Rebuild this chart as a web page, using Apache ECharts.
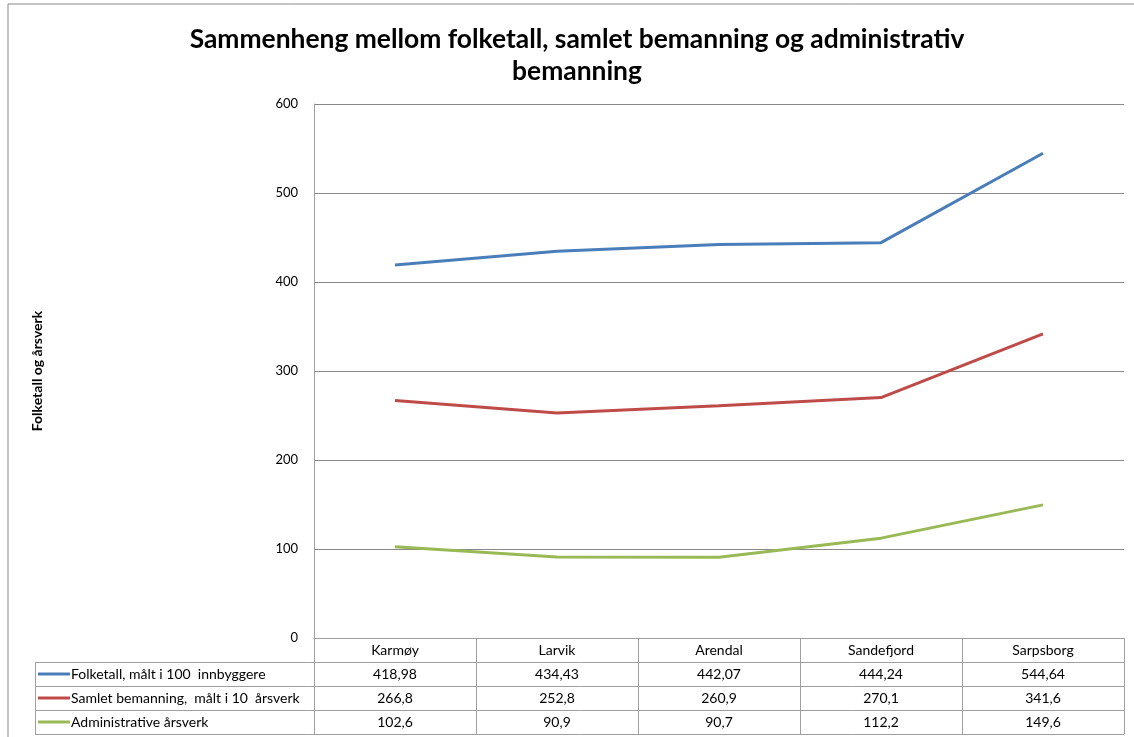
<!DOCTYPE html>
<html><head><meta charset="utf-8">
<script src="https://cdn.jsdelivr.net/npm/echarts@6/dist/echarts.min.js"></script>
<style>html,body{margin:0;padding:0;background:#fff}#c{width:1134px;height:737px}</style>
</head><body><div id="c"></div>
<script>
const categories = ['Karmøy', 'Larvik', 'Arendal', 'Sandefjord', 'Sarpsborg'];
const seriesNames = ['Folketall, målt i 100  innbyggere', 'Samlet bemanning,  målt i 10  årsverk', 'Administrative årsverk'];
const folketall = [418.98, 434.43, 442.07, 444.24, 544.64];
const bemanning = [266.8, 252.8, 260.9, 270.1, 341.6];
const administrative = [102.6, 90.9, 90.7, 112.2, 149.6];
const colors = ['#4a7ebb', '#be4b48', '#98b954'];
const allData = [folketall, bemanning, administrative];
const fmt = v => String(v).replace('.', ',');

const FONT = 'Lato, "Liberation Sans", sans-serif';
const chart = echarts.init(document.getElementById('c'));
const grid = {left: 314, right: 10, top: 104, bottom: 99};
const rowH = 24;

chart.setOption({
  animation: false,
  title: {
    text: 'Sammenheng mellom folketall, samlet bemanning og administrativ\nbemanning',
    left: 572, top: 18, textAlign: 'center',
    textStyle: {fontFamily: FONT, fontSize: 26.4, fontWeight: 'bold', color: '#000', lineHeight: 32}
  },
  grid: grid,
  xAxis: {
    type: 'category', data: categories, boundaryGap: true,
    axisLine: {lineStyle: {color: '#a0a0a0', width: 1}},
    axisTick: {show: true, length: rowH * 4, interval: 0, lineStyle: {color: '#a0a0a0'}},
    axisLabel: {interval: 0, margin: 5, fontFamily: FONT, fontSize: 14, color: '#000'},
    splitLine: {show: false}
  },
  yAxis: {
    type: 'value', min: 0, max: 600, interval: 100,
    name: 'Folketall og årsverk', nameLocation: 'middle', nameGap: 270, nameRotate: 90,
    nameTextStyle: {fontFamily: FONT, fontSize: 14, fontWeight: 'bold', color: '#000'},
    axisLine: {show: true, lineStyle: {color: '#a0a0a0'}},
    axisTick: {show: false},
    axisLabel: {margin: 16, fontFamily: FONT, fontSize: 13, color: '#000'},
    splitLine: {lineStyle: {color: '#888', width: 1}}
  },
  series: allData.map((d, i) => ({
    name: seriesNames[i], type: 'line', data: d, symbol: 'none',
    lineStyle: {color: colors[i], width: 3}, itemStyle: {color: colors[i]}
  }))
});

function drawTable() {
  const els = [];
  const y0 = chart.convertToPixel({yAxisIndex: 0}, 0);
  const xr = 1134 - grid.right, legL = 35;
  els.push({type: 'line', shape: {x1: 8, y1: 4, x2: 1134, y2: 4}, style: {stroke: '#888', lineWidth: 1}});
  els.push({type: 'line', shape: {x1: 8, y1: 4, x2: 8, y2: 737}, style: {stroke: '#888', lineWidth: 1}});
  for (let r = 1; r <= 4; r++) {
    const y = Math.round(y0 + r * rowH) + 0.5;
    els.push({type: 'line', shape: {x1: legL, y1: y, x2: xr, y2: y}, style: {stroke: '#a0a0a0', lineWidth: 1}});
  }
  els.push({type: 'line', shape: {x1: legL + 0.5, y1: y0 + rowH, x2: legL + 0.5, y2: y0 + 4 * rowH}, style: {stroke: '#a0a0a0', lineWidth: 1}});
  allData.forEach((d, i) => {
    const yc = y0 + rowH * (i + 1) + rowH / 2;
    els.push({type: 'line', shape: {x1: 38, y1: yc, x2: 70, y2: yc}, style: {stroke: colors[i], lineWidth: 3}});
    els.push({type: 'text', x: 71, y: yc, style: {text: seriesNames[i], fontFamily: FONT, fontSize: 14, fill: '#000', textAlign: 'left', textVerticalAlign: 'middle'}});
    d.forEach((v, j) => {
      const xc = chart.convertToPixel({xAxisIndex: 0}, j);
      els.push({type: 'text', x: xc, y: yc, style: {text: fmt(v), fontFamily: FONT, fontSize: 14, fill: '#000', textAlign: 'center', textVerticalAlign: 'middle'}});
    });
  });
  chart.setOption({graphic: {elements: els}});
}
drawTable();
</script></body></html>
